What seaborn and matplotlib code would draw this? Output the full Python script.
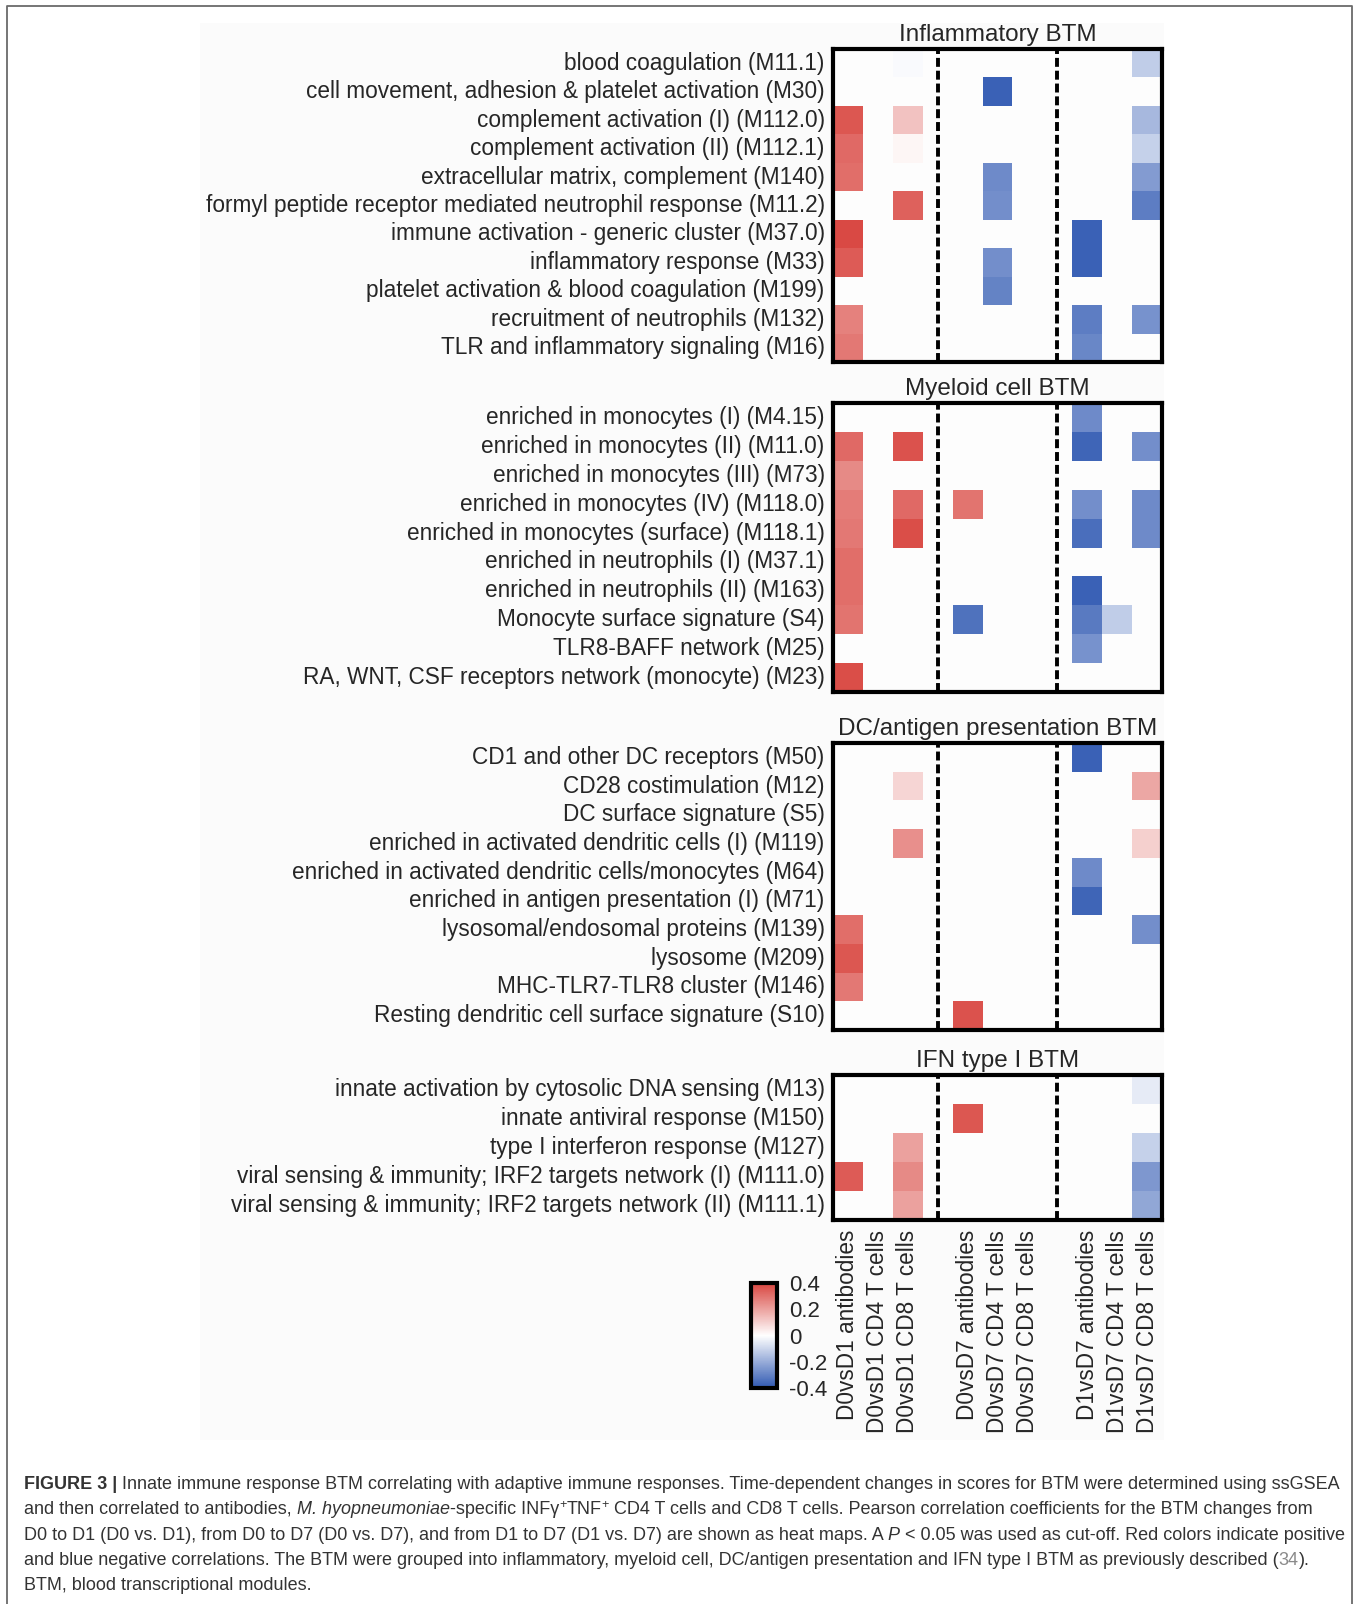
import numpy as np
import pandas as pd
import matplotlib
matplotlib.use("Agg")
import matplotlib.pyplot as plt
import seaborn as sns
from matplotlib.colors import LinearSegmentedColormap
from matplotlib.patches import Rectangle
from matplotlib.lines import Line2D

W, H = 1357, 1604
n = np.nan

conditions = ["D0vsD1 antibodies", "D0vsD1 CD4 T cells", "D0vsD1 CD8 T cells",
              "D0vsD7 antibodies", "D0vsD7 CD4 T cells", "D0vsD7 CD8 T cells",
              "D1vsD7 antibodies", "D1vsD7 CD4 T cells", "D1vsD7 CD8 T cells"]

inflammatory_labels = ["blood coagulation (M11.1)",
                       "cell movement, adhesion & platelet activation (M30)",
                       "complement activation (I) (M112.0)",
                       "complement activation (II) (M112.1)",
                       "extracellular matrix, complement (M140)",
                       "formyl peptide receptor mediated neutrophil response (M11.2)",
                       "immune activation - generic cluster (M37.0)",
                       "inflammatory response (M33)",
                       "platelet activation & blood coagulation (M199)",
                       "recruitment of neutrophils (M132)",
                       "TLR and inflammatory signaling (M16)"]
inflammatory_r = [[n, n, -0.01, n, n, n, n, n, -0.12],
                  [n, n, n, n, -0.38, n, n, n, n],
                  [0.36, n, 0.13, n, n, n, n, n, -0.17],
                  [0.32, n, 0.02, n, n, n, n, n, -0.11],
                  [0.31, n, n, n, -0.28, n, n, n, -0.24],
                  [n, n, 0.34, n, -0.27, n, n, n, -0.31],
                  [0.39, n, n, n, n, n, -0.38, n, n],
                  [0.35, n, n, n, -0.27, n, -0.38, n, n],
                  [n, n, n, n, -0.30, n, n, n, n],
                  [0.27, n, n, n, n, n, -0.31, n, -0.26],
                  [0.29, n, n, n, n, n, -0.29, n, n]]

myeloid_labels = ["enriched in monocytes (I) (M4.15)",
                  "enriched in monocytes (II) (M11.0)",
                  "enriched in monocytes (III) (M73)",
                  "enriched in monocytes (IV) (M118.0)",
                  "enriched in monocytes (surface) (M118.1)",
                  "enriched in neutrophils (I) (M37.1)",
                  "enriched in neutrophils (II) (M163)",
                  "Monocyte surface signature (S4)",
                  "TLR8-BAFF network (M25)",
                  "RA, WNT, CSF receptors network (monocyte) (M23)"]
myeloid_r = [[n, n, n, n, n, n, -0.28, n, n],
             [0.32, n, 0.37, n, n, n, -0.37, n, -0.27],
             [0.25, n, n, n, n, n, n, n, n],
             [0.28, n, 0.32, 0.30, n, n, -0.27, n, -0.28],
             [0.29, n, 0.38, n, n, n, -0.35, n, -0.28],
             [0.31, n, n, n, n, n, n, n, n],
             [0.31, n, n, n, n, n, -0.38, n, n],
             [0.30, n, n, -0.34, n, n, -0.32, -0.12, n],
             [n, n, n, n, n, n, -0.26, n, n],
             [0.38, n, n, n, n, n, n, n, n]]

dc_labels = ["CD1 and other DC receptors (M50)",
             "CD28 costimulation (M12)",
             "DC surface signature (S5)",
             "enriched in activated dendritic cells (I) (M119)",
             "enriched in activated dendritic cells/monocytes (M64)",
             "enriched in antigen presentation (I) (M71)",
             "lysosomal/endosomal proteins (M139)",
             "lysosome (M209)",
             "MHC-TLR7-TLR8 cluster (M146)",
             "Resting dendritic cell surface signature (S10)"]
dc_r = [[n, n, n, n, n, n, -0.38, n, n],
        [n, n, 0.09, n, n, n, n, n, 0.19],
        [n, n, n, n, n, n, n, n, n],
        [n, n, 0.24, n, n, n, n, n, 0.10],
        [n, n, n, n, n, n, -0.28, n, n],
        [n, n, n, n, n, n, -0.37, n, n],
        [0.31, n, n, n, n, n, n, n, -0.27],
        [0.36, n, n, n, n, n, n, n, n],
        [0.29, n, n, n, n, n, n, n, n],
        [n, n, n, 0.37, n, n, n, n, n]]

ifn_labels = ["innate activation by cytosolic DNA sensing (M13)",
              "innate antiviral response (M150)",
              "type I interferon response (M127)",
              "viral sensing & immunity; IRF2 targets network (I) (M111.0)",
              "viral sensing & immunity; IRF2 targets network (II) (M111.1)"]
ifn_r = [[n, n, n, n, n, n, n, n, -0.05],
         [n, n, n, 0.36, n, n, n, n, n],
         [n, n, 0.20, n, n, n, n, n, -0.11],
         [0.35, n, 0.25, n, n, n, n, n, -0.25],
         [n, n, 0.20, n, n, n, n, n, -0.21]]

panels = [("Inflammatory BTM", inflammatory_labels, inflammatory_r, 49, 362),
          ("Myeloid cell BTM", myeloid_labels, myeloid_r, 403, 692),
          ("DC/antigen presentation BTM", dc_labels, dc_r, 743, 1030),
          ("IFN type I BTM", ifn_labels, ifn_r, 1075, 1220)]

# blank spacer columns between the three comparisons
cols = conditions[:3] + [""] + conditions[3:6] + [" "] + conditions[6:]

sns.set_style("white")
plt.rcParams["font.family"] = ["Liberation Sans", "DejaVu Sans"]

cmap = LinearSegmentedColormap.from_list(
    "btm", ["#3059b2", "#ffffff", "#d8453f"])

fig = plt.figure(figsize=(W / 100, H / 100), dpi=100)


def px_axes(x0, y0, x1, y1):
    return fig.add_axes([x0 / W, 1 - y1 / H, (x1 - x0) / W, (y1 - y0) / H])


# faint grey backdrop of the figure area and the page frame
fig.patches.append(Rectangle((200 / W, 1 - 1440 / H), 964 / W, 1417 / H,
                             transform=fig.transFigure, facecolor="#fbfbfb",
                             edgecolor="none", zorder=-5))
fig.lines.append(Line2D([7 / W, 7 / W, 1352 / W, 1352 / W],
                        [0, 1 - 6 / H, 1 - 6 / H, 0],
                        transform=fig.transFigure, color="#6a6a6a", lw=1.3))

cax = px_axes(751, 1283, 777, 1388)

for i, (title, labels, vals, top, bot) in enumerate(panels):
    ax = px_axes(833, top, 1162, bot)
    arr = np.insert(np.array(vals, dtype=float), [3, 6], np.nan, axis=1)
    df = pd.DataFrame(arr, index=labels, columns=cols)
    last = i == len(panels) - 1
    sns.heatmap(df, ax=ax, cmap=cmap, vmin=-0.4, vmax=0.4,
                cbar=last, cbar_ax=cax if last else None,
                xticklabels=last, yticklabels=True)
    ax.set_facecolor("#fdfdfd")
    ax.set_xlabel("")
    ax.set_ylabel("")
    for sp in ax.spines.values():
        sp.set_visible(True)
        sp.set_linewidth(3)
        sp.set_color("black")
    for xv in (3.5, 7.5):
        ax.axvline(xv, color="black", lw=2.8, linestyle=(0, (2.3, 1.0)))
    ax.set_title(title, fontsize=17.5, pad=6)
    ax.tick_params(axis="y", length=0, pad=6, labelsize=16.3)
    ax.set_yticklabels(labels, rotation=0)
    if last:
        ax.tick_params(axis="x", length=0, pad=7, labelsize=16.3)
        ax.set_xticklabels(cols, rotation=90)

cbar = fig.axes[-1].collections[0].colorbar
cbar.set_ticks([-0.4, -0.2, 0, 0.2, 0.4])
cbar.set_ticklabels(["-0.4", "-0.2", "0", "0.2", "0.4"])
cbar.outline.set_linewidth(3)
cbar.outline.set_edgecolor("black")
cax.tick_params(direction="in", length=5, width=2, left=True, right=True,
                labelsize=16, pad=9)

# caption, drawn piece by piece so bold/italic/grey runs line up
renderer = fig.canvas.get_renderer()
cap_color = "#333333"
caption = [
    [("FIGURE 3 |", {"weight": "bold"}),
     (" Innate immune response BTM correlating with adaptive immune responses. "
      "Time-dependent changes in scores for BTM were determined using ssGSEA", {})],
    [("and then correlated to antibodies, ", {}),
     ("M. hyopneumoniae", {"style": "italic"}),
     ("-specific INF\u03b3", {}), ("+", {"sup": True}), ("TNF", {}),
     ("+", {"sup": True}),
     (" CD4 T cells and CD8 T cells. Pearson correlation coefficients for the BTM changes from", {})],
    [("D0 to D1 (D0 vs. D1), from D0 to D7 (D0 vs. D7), and from D1 to D7 (D1 vs. D7) "
      "are shown as heat maps. A ", {}),
     ("P", {"style": "italic"}),
     (" < 0.05 was used as cut-off. Red colors indicate positive", {})],
    [("and blue negative correlations. The BTM were grouped into inflammatory, myeloid cell, "
      "DC/antigen presentation and IFN type I BTM as previously described (", {}),
     ("34", {"color": "#8a8a8a"}), (").", {})],
    [("BTM, blood transcriptional modules.", {})],
]
baselines = [1489, 1514, 1540, 1565, 1590]


def put(x, y, txt, opts, size):
    fs = size * 0.7 if opts.get("sup") else size
    dy = size * 0.45 if opts.get("sup") else 0
    t = fig.text(x / W, 1 - (y - dy) / H, txt, fontsize=fs,
                 weight=opts.get("weight", "normal"),
                 style=opts.get("style", "normal"),
                 color=opts.get("color", cap_color), va="baseline", ha="left")
    return t, t.get_window_extent(renderer).width


# pick the caption size so the first line spans like the original
w1 = 0
tmp = []
for txt, opts in caption[0]:
    t, w = put(24 + w1, -100, txt, opts, 12)
    tmp.append(t)
    w1 += w
for t in tmp:
    t.remove()
cap_size = 12 * (1342 - 24) / w1

for segs, yb in zip(caption, baselines):
    x = 24
    for txt, opts in segs:
        _, w = put(x, yb, txt, opts, cap_size)
        x += w

fig.savefig("out.png", dpi=100)
